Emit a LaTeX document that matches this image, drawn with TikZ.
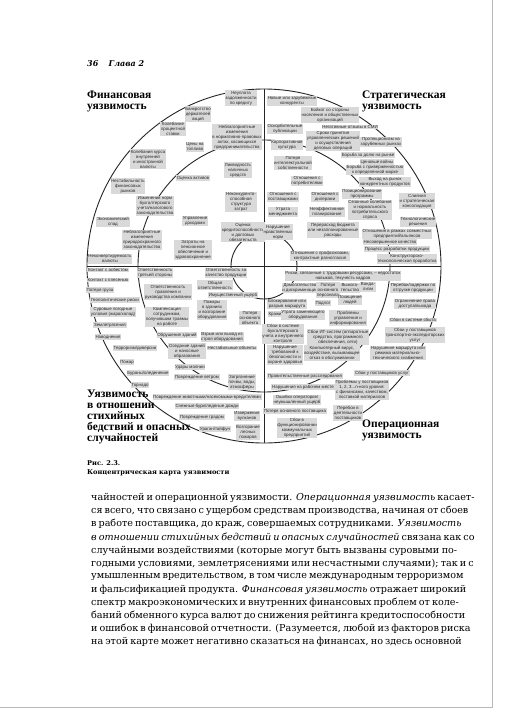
\documentclass[tikz,border=0pt]{standalone}
\usepackage{fontspec}
\setmainfont{Liberation Serif}
\setsansfont{Liberation Sans}
\newfontfamily\bodyfont{DejaVu Serif}
\usetikzlibrary{positioning}

\definecolor{boxgray}{gray}{0.85}
\definecolor{inkgray}{gray}{0.15}
\definecolor{framegray}{gray}{0.72}

\tikzset{
  risk/.style={fill=boxgray, inner sep=0.7pt, align=center, text=inkgray,
    font=\sffamily\fontsize{4.4}{5}\selectfont},
  ring/.style={line width=0.9pt, inkgray},
  title/.style={anchor=north west, align=left, inner sep=0pt,
    font=\bfseries\fontsize{11.5}{11}\selectfont},
  bodyline/.style={anchor=west, inner sep=0pt, font=\bodyfont\fontsize{9.6}{13}\selectfont},
  capline/.style={anchor=west, inner sep=0pt, font=\bodyfont\bfseries\fontsize{6.6}{8}\selectfont}
}

\newcommand{\jline}[1]{\makebox[366pt][s]{#1}}

\begin{document}
\begin{tikzpicture}[x=1pt, y=-1pt]
  \fill[white] (0,0) rectangle (508,716);
  \useasboundingbox (0,0) rectangle (508,716);

  % page edge
  \draw[framegray, line width=1pt] (492,0) -- (492,707) -- (0,707);

  % running head
  \node (pagenum) [anchor=west, inner sep=0pt, font=\bodyfont\bfseries\itshape\fontsize{8}{10}\selectfont] at (87,64) {36};
  \node (chap) [right=10pt of pagenum, inner sep=0pt, font=\bodyfont\bfseries\itshape\fontsize{8}{10}\selectfont] {Глава 2};

  % rings and axes
  \draw[ring] (264,266) circle[radius=177pt];
  \draw[ring] (264,266) circle[radius=126pt];
  \draw[ring] (264,266) circle[radius=33pt];
  \draw[ring] (87,266) -- (441,266);
  \draw[ring] (264,89) -- (264,443);

  % Financial
  \node (f1) [risk] at (241,98) {Неуплата\\задолженности\\по кредиту};
  \node (f2) [risk] at (198,114) {Банкротство\\держателей\\акций};
  \node (f3) [risk] at (173,129) {Колебание\\процентной\\ставки};
  \node (f4) [risk] at (237,137) {Неблагоприятные\\изменения\\в нормативно-правовых\\актах, касающихся\\предпринимательства};
  \node (f5) [risk] at (195,147) {Цены на\\топливо};
  \node (f6) [risk] at (148,159) {Колебания курса\\внутренней\\и иностранной\\валюты};
  \node (f7) [risk] at (238,170) {Ликвидность\\наличных\\средств};
  \node (f8) [risk] at (193,178) {Оценка активов};
  \node (f9) [risk] at (128,186) {Нестабильность\\финансовых\\рынков};
  \node (f10) [risk] at (155,206) {Изменения норм\\бухгалтерского\\учета/налогового\\законодательства};
  \node (f11) [risk] at (241,202) {Неконкуренто-\\способная\\структура\\затрат};
  \node (f12) [risk] at (113,222) {Экономический\\спад};
  \node (f13) [risk] at (195,221) {Управление\\доходами};
  \node (f14) [risk] at (142,240) {Неблагоприятные\\изменения\\природоохранного\\законодательства};
  \node (f15) [risk] at (243,232) {Оценка\\кредитоспособности\\и долговых\\обязательств};
  \node (f16) [risk] at (193,250) {Затраты на\\пенсионное\\обеспечение и\\здравоохранение};
  \node (f17) [risk] at (110,259) {Неконвертируемость\\валюты};

  % Strategic
  \node (s1) [risk] at (292,101) {Новые или зарубежные\\конкуренты};
  \node (s2) [risk] at (330,115) {Бойкот со стороны\\населения и общественных\\организаций};
  \node (s3) [risk] at (285,129) {Оскорбительные\\публикации};
  \node (s4) [risk] at (350,127) {Негативные отзывы в СМИ};
  \node (s5) [risk] at (333,141) {Сроки принятия\\управленческих решений\\и осуществления\\деловых операций};
  \node (s6) [risk] at (381,142) {Протекционизм на\\зарубежных рынках};
  \node (s7) [risk] at (287,145) {Корпоративная\\культура};
  \node (s8) [risk] at (368,155) {Борьба за долю на рынке};
  \node (s9) [risk] at (293,163) {Потеря\\интеллектуальной\\собственности};
  \node (s10) [risk] at (377,162) {Ценовые войны};
  \node (s11) [risk] at (375,170) {Борьба с приверженностью\\к определенной марке};
  \node (s12) [risk] at (307,181) {Отношения с\\потребителями};
  \node (s13) [risk] at (385,182) {Выход на рынок\\конкурентных продуктов};
  \node (s14) [risk] at (283,197) {Отношения с\\поставщиками};
  \node (s15) [risk] at (325,197) {Отношения с\\дилерами};
  \node (s16) [risk] at (362,194) {Позиционирование\\программы};
  \node (s17) [risk] at (417,201) {Слияния\\и стратегическая\\консолидация};
  \node (s18) [risk] at (370,210) {Сезонные колебания\\и нормальность\\потребительского\\спроса};
  \node (s19) [risk] at (283,212) {Утрата\\менеджмента};
  \node (s20) [risk] at (327,212) {Неэффективное\\планирование};
  \node (s21) [risk] at (418,222) {Технологические\\решения};
  \node (s22) [risk] at (278,232) {Нарушение\\нравственных\\норм};
  \node (s23) [risk] at (333,230) {Перерасход бюджета\\или незапланированные\\расходы};
  \node (s24) [risk] at (397,234) {Отношения в рамках совместных\\предприятий/альянсов};
  \node (s25) [risk] at (390,242) {Несовершенное качество};
  \node (s26) [risk] at (397,249) {Процесс разработки продукции};
  \node (s27) [risk] at (320,256) {Отношения с профсоюзами,\\контрактные разногласия};
  \node (s28) [risk] at (407,259) {Конструкторско-\\технологическая проработка};

  % Hazard
  \node (h1) [risk] at (108,270) {Контакт с асбестом};
  \node (h2) [risk] at (155,273) {Ответственность\\третьей стороны};
  \node (h3) [risk] at (226,273) {Ответственность за\\качество продукции};
  \node (h4) [risk] at (108,280) {Контакт с плесенью};
  \node (h5) [risk] at (215,285) {Общая\\ответственность};
  \node (h6) [risk] at (100,290) {Потеря груза};
  \node (h7) [risk] at (168,292) {Ответственность\\правления и\\руководства компании};
  \node (h8) [risk] at (233,295) {Имущественный ущерб};
  \node (h9) [risk] at (115,300) {Геополитические риски};
  \node (h10) [risk] at (212,310) {Пожары\\в зданиях\\и возгорание\\оборудования};
  \node (h11) [risk] at (113,312) {Суровые погодные\\условия (жара/холод)};
  \node (h12) [risk] at (167,317) {Компенсация\\сотрудникам,\\получившим травмы\\на работе};
  \node (h13) [risk] at (110,325) {Землетрясения};
  \node (h14) [risk] at (250,318) {Потеря\\основного\\объекта};
  \node (h15) [risk] at (108,337) {Наводнения};
  \node (h16) [risk] at (177,335) {Обрушение зданий};
  \node (h17) [risk] at (222,337) {Взрыв или выход из\\строя оборудования};
  \node (h18) [risk] at (135,348) {Терроризм/диверсии};
  \node (h19) [risk] at (187,351) {Оседание зданий\\и наносные\\образования};
  \node (h20) [risk] at (232,348) {Нестабильные объекты};
  \node (h21) [risk] at (127,362) {Пожар};
  \node (h22) [risk] at (190,367) {Удары молнии};
  \node (h23) [risk] at (242,382) {Загрязнение\\почвы, воды,\\атмосферы};
  \node (h24) [risk] at (148,373) {Бураны/оледенение};
  \node (h25) [risk] at (197,377) {Повреждение ветром};
  \node (h26) [risk] at (140,385) {Торнадо};
  \node (h27) [risk] at (207,397) {Повреждение животными/насекомыми-вредителями};
  \node (h28) [risk] at (207,406) {Снежные бури/ледяные дожди};
  \node (h29) [risk] at (247,416) {Извержения\\вулканов};
  \node (h30) [risk] at (202,417) {Повреждение градом};
  \node (h31) [risk] at (215,429) {Ураган/тайфун};
  \node (h32) [risk] at (248,432) {Возгорание\\лесных\\пожаров};

  % Operational
  \node (o1) [risk] at (343,276) {Риски, связанные с трудовыми ресурсами, -- недостаток\\навыков, текучесть кадров};
  \node (o2) [risk] at (300,288) {Домогательство\\и дискриминация};
  \node (o3) [risk] at (328,290) {Потеря\\основного\\персонала};
  \node (o4) [risk] at (350,288) {Вымога-\\тельство};
  \node (o5) [risk] at (368,287) {Ванда-\\лизм};
  \node (o6) [risk] at (413,288) {Перебои/задержки по\\отгрузке продукции};
  \node (o7) [risk] at (287,304) {Блокирование или\\разрыв маршрута};
  \node (o8) [risk] at (323,303) {Подлог};
  \node (o9) [risk] at (350,300) {Похищение\\людей};
  \node (o10) [risk] at (415,304) {Ограничение права\\доступа/выхода};
  \node (o11) [risk] at (275,314) {Кражи};
  \node (o12) [risk] at (303,315) {Утрата заменяющего\\оборудования};
  \node (o13) [risk] at (348,318) {Проблемы\\управления и\\информирования};
  \node (o14) [risk] at (413,320) {Сбои в системе сбыта};
  \node (o15) [risk] at (283,334) {Сбои в системе\\бухгалтерского\\учета и внутреннего\\контроля};
  \node (o16) [risk] at (338,337) {Сбои ИТ-систем (аппаратные\\средства, программного\\обеспечения, сети)};
  \node (o17) [risk] at (415,335) {Сбои у поставщиков\\транспортно-экспедиторских\\услуг};
  \node (o18) [risk] at (285,355) {Нарушение\\требований к\\безопасности и\\охране здоровья};
  \node (o19) [risk] at (332,353) {Компьютерный вирус,\\воздействие, вызывающее\\отказ в обслуживании};
  \node (o20) [risk] at (398,353) {Нарушение маршрута или\\режима материально-\\технического снабжения};
  \node (o21) [risk] at (382,373) {Сбои у поставщиков услуг};
  \node (o22) [risk] at (305,376) {Правительственные расследования};
  \node (o23) [risk] at (303,387) {Нарушения на рабочем месте};
  \node (o24) [risk] at (362,390) {Проблемы у поставщиков\\1, 2, 3...n-ного уровня:\\с финансами, качеством,\\поставкой материалов};
  \node (o25) [risk] at (297,400) {Ошибки операторов/\\неумышленный ущерб};
  \node (o26) [risk] at (295,411) {Потеря основного поставщика};
  \node (o27) [risk] at (348,413) {Перебои в\\деятельности\\поставщиков};
  \node (o28) [risk] at (297,428) {Сбои в\\функционировании\\коммунальных\\предприятий};

  % quadrant titles
  \node (tfin) [title] at (87,91) {Финансовая\\уязвимость};
  \node (tstr) [title] at (362,91) {Стратегическая\\уязвимость};
  \node (thaz) [title] at (87,390) {Уязвимость\\в отношении\\стихийных\\бедствий и опасных\\случайностей};
  \node (topr) [title] at (362,420) {Операционная\\уязвимость};

  % caption
  \node (cap1) [capline] at (87,463) {Рис. 2.3.};
  \node (cap2) [capline] at (87,473) {Концентрическая карта уязвимости};

  % body text
  \node (l0) [bodyline] at (91,498) {\jline{чайностей и операционной уязвимости. \textit{Операционная уязвимость} касает-}};
  \node (l1) [bodyline] at (91,511.1) {\jline{ся всего, что связано с ущербом средствам производства, начиная от сбоев}};
  \node (l2) [bodyline] at (91,524.2) {\jline{в работе поставщика, до краж, совершаемых сотрудниками. \textit{Уязвимость}}};
  \node (l3) [bodyline] at (91,537.3) {\jline{\textit{в отношении стихийных бедствий и опасных случайностей} связана как со}};
  \node (l4) [bodyline] at (91,550.4) {\jline{случайными воздействиями (которые могут быть вызваны суровыми по-}};
  \node (l5) [bodyline] at (91,563.5) {\jline{годными условиями, землетрясениями или несчастными случаями); так и с}};
  \node (l6) [bodyline] at (91,576.6) {\jline{умышленным вредительством, в том числе международным терроризмом}};
  \node (l7) [bodyline] at (91,589.7) {\jline{и фальсификацией продукта. \textit{Финансовая уязвимость} отражает широкий}};
  \node (l8) [bodyline] at (91,602.8) {\jline{спектр макроэкономических и внутренних финансовых проблем от коле-}};
  \node (l9) [bodyline] at (91,615.9) {\jline{баний обменного курса валют до снижения рейтинга кредитоспособности}};
  \node (l10) [bodyline] at (91,629) {\jline{и ошибок в финансовой отчетности. (Разумеется, любой из факторов риска}};
  \node (l11) [bodyline] at (91,642.1) {\jline{на этой карте может негативно сказаться на финансах, но здесь основной}};
\end{tikzpicture}
\end{document}
